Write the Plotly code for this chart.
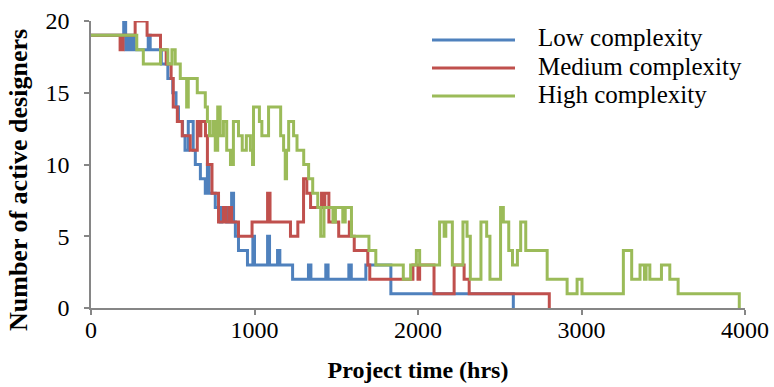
import plotly.graph_objects as go

# ---- data ----
series_names = ["Low complexity", "Medium complexity", "High complexity"]
series_colors = ["#4F81BD", "#C0504D", "#9BBB59"]

low_t = [0, 200, 212, 230, 240, 255, 265, 350, 362, 430, 470, 500, 520, 535, 560, 575, 595, 625,
         638, 669, 699, 712, 722, 760, 790, 800, 830, 860, 872, 883, 902, 957, 990, 1000, 1080,
         1092, 1141, 1155, 1233, 1330, 1345, 1436, 1450, 1577, 1592, 1681, 1834, 2583]
low_v = [19, 20, 18, 19, 18, 19, 18, 19, 18, 17, 16, 15, 14, 13, 12, 11, 13, 11,
         10, 9, 8, 10, 8, 7, 6, 7, 6, 8, 6, 5, 4, 3, 5, 3, 5,
         3, 4, 3, 2, 3, 2, 3, 2, 3, 2, 3, 1, 0]

med_t = [0, 178, 196, 270, 343, 425, 460, 490, 503, 528, 558, 607, 650, 662, 672, 700, 712, 740,
         780, 810, 825, 845, 860, 902, 985, 1080, 1095, 1220, 1265, 1300, 1320, 1343, 1410, 1420,
         1430, 1455, 1515, 1580, 1592, 1610, 1693, 1705, 1969, 2000, 2010, 2098, 2221, 2282, 2313, 2803]
med_v = [19, 18, 19, 20, 19, 18, 17, 16, 14, 13, 12, 11, 13, 12, 13, 12, 10, 8,
         6, 7, 6, 7, 6, 5, 6, 8, 6, 5, 6, 9, 8, 7, 8, 7,
         8, 6, 5, 6, 5, 4, 3, 2, 3, 2, 3, 1, 3, 2, 1, 0]

high_t = [0, 280, 320, 425, 470, 495, 515, 546, 585, 595, 650, 699, 712, 725, 745, 760, 775, 790,
          810, 830, 853, 871, 902, 925, 950, 975, 988, 994, 1030, 1045, 1086, 1160, 1178, 1188,
          1196, 1209, 1239, 1260, 1301, 1331, 1356, 1387, 1405, 1425, 1480, 1495, 1540, 1555,
          1593, 1700, 1742, 1910, 1955, 1990, 2010, 2132, 2160, 2170, 2210, 2275, 2300, 2320,
          2385, 2420, 2440, 2505, 2522, 2555, 2578, 2608, 2628, 2659, 2790, 2912, 2973, 3003,
          3256, 3307, 3358, 3385, 3395, 3418, 3489, 3540, 3591, 3965]
high_v = [19, 18, 17, 18, 17, 18, 17, 16, 14, 16, 15, 14, 13, 12, 13, 11, 14, 12,
          13, 11, 10, 13, 12, 11, 12, 11, 10, 14, 13, 12, 14, 12, 11, 9,
          11, 13, 12, 11, 10, 9, 8, 7, 5, 7, 6, 7, 6, 7,
          5, 4, 3, 2, 3, 4, 3, 6, 5, 6, 3, 6, 5, 2,
          6, 5, 2, 7, 6, 4, 3, 4, 6, 4, 2, 1, 2, 1,
          4, 2, 3, 2, 3, 2, 3, 2, 1, 0]

x_ticks = [0, 1000, 2000, 3000, 4000]
y_ticks = [0, 5, 10, 15, 20]
x_title = "Project time (hrs)"
y_title = "Number of active designers"

# ---- figure ----
FONT = "Liberation Serif, Times New Roman, serif"
L, R, T, B = 91, 29, 21, 79
W_PLOT = 774 - L - R
H_PLOT = 387 - T - B

fig = go.Figure()
for name, color, tx, vy in zip(series_names, series_colors,
                               [low_t, med_t, high_t], [low_v, med_v, high_v]):
    fig.add_trace(go.Scatter(x=tx, y=vy, mode="lines", name=name,
                             line=dict(color=color, width=3, shape="hv"),
                             showlegend=False))

def px_to_paper_x(px):
    return (px - L) / W_PLOT

def py_to_paper_y(py):
    return 1 - (py - T) / H_PLOT

# manual legend (long line samples like the original)
leg_rows = [40, 68, 96]
for name, color, py in zip(series_names, series_colors, leg_rows):
    fig.add_shape(type="line", xref="paper", yref="paper",
                  x0=px_to_paper_x(432), x1=px_to_paper_x(515),
                  y0=py_to_paper_y(py), y1=py_to_paper_y(py),
                  line=dict(color=color, width=3))
    fig.add_annotation(xref="paper", yref="paper", x=px_to_paper_x(536),
                       y=py_to_paper_y(py - 2), text=name, showarrow=False,
                       xanchor="left", yanchor="middle",
                       font=dict(family=FONT, size=25, color="black"))

# y-axis title placed like the original (slightly below plot centre)
fig.add_annotation(xref="paper", yref="paper", x=px_to_paper_x(18),
                   y=py_to_paper_y(180), text="<b>" + y_title + "</b>",
                   textangle=-90, showarrow=False, xanchor="center", yanchor="middle",
                   font=dict(family=FONT, size=26, color="black"))

axis_common = dict(showgrid=False, zeroline=False, showline=True,
                   linecolor="#868686", linewidth=1.5, ticks="outside",
                   ticklen=5, tickcolor="#868686", tickwidth=1.5,
                   tickfont=dict(family=FONT, size=24, color="black"))

fig.update_xaxes(range=[0, 4000], tickvals=x_ticks, ticktext=[str(v) for v in x_ticks],
                 ticklabelstandoff=-6,
                 title=dict(text="<b>" + x_title + "</b>", standoff=20,
                            font=dict(family=FONT, size=24, color="black")),
                 **axis_common)
fig.update_yaxes(range=[0, 20], tickvals=y_ticks, ticktext=[str(v) for v in y_ticks],
                 ticklabelstandoff=10, **axis_common)

fig.update_layout(width=774, height=387,
                  margin=dict(l=L, r=R, t=T, b=B, autoexpand=False),
                  plot_bgcolor="white", paper_bgcolor="white",
                  font=dict(family=FONT, size=24, color="black"))

fig.write_html("out.html", config={"displayModeBar": False},
               post_script="document.body.style.margin='0px';document.body.style.overflow='hidden';")
